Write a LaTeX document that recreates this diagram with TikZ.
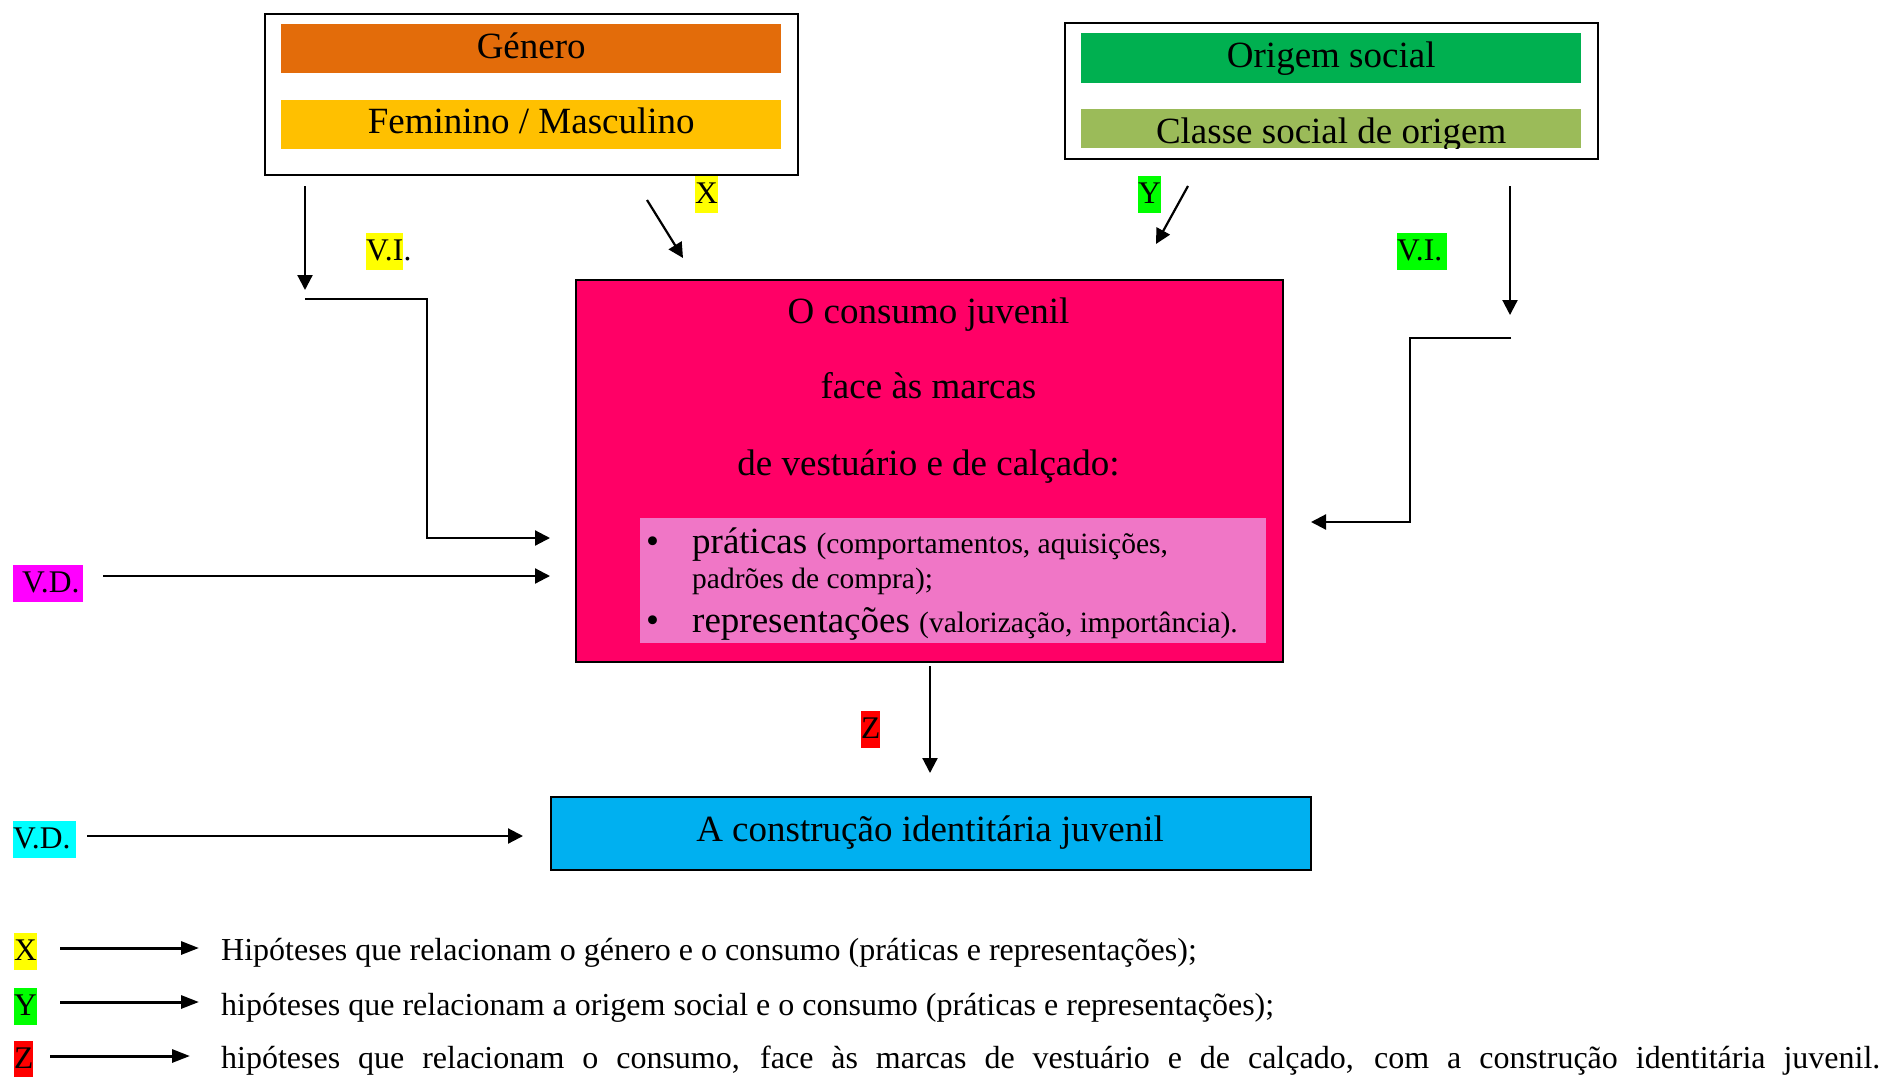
\documentclass[tikz,border=0pt]{standalone}
\usepackage{fontspec}
\setmainfont{Liberation Serif}
\usetikzlibrary{arrows.meta}
\definecolor{cOrange}{HTML}{E36C0A}
\definecolor{cGold}{HTML}{FFC000}
\definecolor{cGreen}{HTML}{00B050}
\definecolor{cOlive}{HTML}{9BBB59}
\definecolor{cPink}{HTML}{FF0066}
\definecolor{cLight}{HTML}{F076C6}
\definecolor{cBlue}{HTML}{00B0F0}
\definecolor{hYellow}{HTML}{FFFF00}
\definecolor{hGreen}{HTML}{00FF00}
\definecolor{hMagenta}{HTML}{FF00FF}
\definecolor{hCyan}{HTML}{00FFFF}
\definecolor{hRed}{HTML}{FF0000}
\newcommand\fBig{\fontsize{37}{44}\selectfont}
\newcommand\fLeg{\fontsize{32}{38}\selectfont}
\newcommand\fLab{\fontsize{31.5}{36}\selectfont}
\newcommand\fSm{\fontsize{29.5}{35}\selectfont}
\begin{document}
\begin{tikzpicture}[x=1pt,y=-1pt,
  every node/.style={inner sep=0pt},
  framebox/.style={draw, line width=1.5pt, anchor=north west},
  bar/.style={anchor=north west, font=\fBig},
  txt/.style={anchor=base, font=\fBig},
  hl/.style={anchor=base west, font=\fLab, text height=27.5pt, text depth=9.5pt},
  arr/.style={line width=2.2pt, -{Triangle[length=15pt,width=15pt]}},
  legarr/.style={line width=3pt, -{Triangle[length=18pt,width=13pt]}}]
\useasboundingbox (0,0) rectangle (1886,1076);

% Gender box
\node[framebox, minimum width=533pt, minimum height=161pt] (genbox) at (264,13) {};
\node[bar, fill=cOrange, minimum width=500pt, minimum height=49pt, text height=34pt, text depth=15pt] (genero) at (281,24) {Género};
\node[bar, fill=cGold, minimum width=500pt, minimum height=49pt, text height=33pt, text depth=16pt] (femmasc) at (281,100) {Feminino / Masculino};

% Origin box
\node[framebox, minimum width=533pt, minimum height=136pt] (orbox) at (1064,22) {};
\node[bar, fill=cGreen, minimum width=500pt, minimum height=50pt, text height=34pt, text depth=16pt] (origem) at (1081,33) {Origem social};
\begin{scope}
  \clip (1081,109) rectangle (1581,148);
  \node[bar, fill=cOlive, minimum width=500pt, minimum height=39pt, text height=34pt, text depth=5pt] (classe) at (1081,109) {Classe social de origem};
\end{scope}

% Main pink box
\node[framebox, line width=2pt, fill=cPink, minimum width=707pt, minimum height=382pt] (consumo) at (575,279) {};
\node[txt] (c1) at (928.5,323) {O consumo juvenil};
\node[txt] (c2) at (928.5,398) {face às marcas};
\node[txt] (c3) at (928.5,475) {de vestuário e de calçado:};
\node[anchor=north west, fill=cLight, minimum width=626pt, minimum height=125pt] (inner) at (640,518) {};
\node[anchor=base west, font=\fBig] (b1) at (646,553) {\textbullet};
\node[anchor=base west, font=\fBig] (p1) at (692,553) {práticas {\fSm (comportamentos, aquisições,}};
\node[anchor=base west, font=\fSm] (p2) at (692,588) {padrões de compra);};
\node[anchor=base west, font=\fBig] (b2) at (646,632) {\textbullet};
\node[anchor=base west, font=\fBig] (p3) at (692,632) {representações {\fSm (valorização, importância).}};

% Blue box
\node[framebox, line width=2pt, fill=cBlue, minimum width=760pt, minimum height=73pt] (identidade) at (550,796) {};
\node[txt] (idtxt) at (930,841) {A construção identitária juvenil};

% Labels
\node[hl, fill=hYellow] (lx) at (695,203) {X};
\node[hl, fill=hGreen] (ly) at (1138,203) {Y};
\node[hl, fill=hYellow] (lvi1) at (366,260) {V.I};
\node[anchor=base west, font=\fLab] (lvi1dot) at (lvi1.base east) {.};
\node[hl, fill=hGreen] (lvi2) at (1397,260) {\makebox[50pt][l]{V.I.}};
\node[hl, fill=hMagenta] (lvd1) at (13,592) {\makebox[70pt][l]{\hspace*{9pt}V.D.}};
\node[hl, fill=hCyan] (lvd2) at (13,848) {\makebox[63pt][l]{V.D.}};
\node[hl, fill=hRed] (lz) at (861,738) {Z};

% Connector coordinates
\coordinate (g1) at (305,186);
\coordinate (g2) at (305,290);
\coordinate (g3) at (305,299);
\coordinate (g4) at (427,299);
\coordinate (g5) at (427,538);
\coordinate (g6) at (550,538);
\coordinate (x1) at (647,200);
\coordinate (x2) at (683,258);
\coordinate (y1) at (1188,186);
\coordinate (y2) at (1156,244);
\coordinate (r1) at (1510,186);
\coordinate (r2) at (1510,315);
\coordinate (r3) at (1511,338);
\coordinate (r4) at (1410,338);
\coordinate (r5) at (1410,522);
\coordinate (r6) at (1311,522);
\coordinate (d1) at (103,576);
\coordinate (d2) at (550,576);
\coordinate (e1) at (87,836);
\coordinate (e2) at (523,836);
\coordinate (z1) at (930,666);
\coordinate (z2) at (930,773);

\draw[arr] (g1) -- (g2);
\draw[arr] (g3) -- (g4) -- (g5) -- (g6);
\draw[arr] (x1) -- (x2);
\draw[arr] (y1) -- (y2);
\draw[arr] (r1) -- (r2);
\draw[arr] (r3) -- (r4) -- (r5) -- (r6);
\draw[arr] (d1) -- (d2);
\draw[arr] (e1) -- (e2);
\draw[arr] (z1) -- (z2);

% Legend
\node[hl, fill=hYellow] (kx) at (14,960) {X};
\node[hl, fill=hGreen] (ky) at (14,1015) {Y};
\node[hl, fill=hRed] (kz) at (14,1068) {Z};
\coordinate (kx1) at (60,948);
\coordinate (kx2) at (199,948);
\coordinate (ky1) at (60,1002);
\coordinate (ky2) at (199,1002);
\coordinate (kz1) at (50,1056);
\coordinate (kz2) at (190,1056);
\draw[legarr] (kx1) -- (kx2);
\draw[legarr] (ky1) -- (ky2);
\draw[legarr] (kz1) -- (kz2);
\node[anchor=base west, font=\fLeg] (tx) at (221,960) {Hipóteses que relacionam o género e o consumo (práticas e representações);};
\node[anchor=base west, font=\fLeg] (ty) at (221,1015) {hipóteses que relacionam a origem social e o consumo (práticas e representações);};
\node[anchor=base west, font=\fLeg] (tz) at (221,1068) {\makebox[1659pt][s]{hipóteses que relacionam o consumo, face às marcas de vestuário e de calçado, com a construção identitária juvenil.}};
\end{tikzpicture}
\end{document}
